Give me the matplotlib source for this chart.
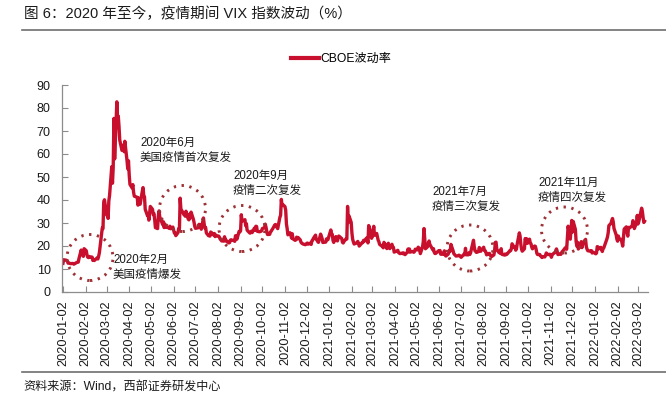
import numpy as np
import pandas as pd
import matplotlib
matplotlib.use("Agg")
import matplotlib.pyplot as plt
import matplotlib.dates as mdates
from matplotlib.patches import Ellipse
from matplotlib.lines import Line2D

plt.rcParams['font.family'] = ['Liberation Sans', 'Noto Sans CJK SC', 'DejaVu Sans']

# ---------------- data: CBOE VIX daily closes, by month ----------------
vix_2020_01 = [12.47, 14.02, 13.85, 13.79, 13.45, 12.54, 12.56, 12.32, 12.39, 12.42, 12.32, 12.10,
               12.85, 12.91, 12.98, 14.56, 18.23, 16.28, 16.39, 15.49, 18.84]
vix_2020_02 = [17.97, 16.05, 15.15, 14.96, 15.47, 15.04, 15.18, 13.74, 14.15, 13.68, 14.83, 14.38,
               15.56, 17.08, 25.03, 27.85, 27.56, 39.16, 40.11]
vix_2020_03 = [33.42, 36.82, 31.99, 39.62, 41.94, 54.46, 47.30, 53.90, 75.47, 57.83, 82.69, 75.91,
               76.45, 72.00, 66.04, 61.59, 61.67, 63.95, 61.00, 65.54, 57.08, 53.54]
vix_2020_04 = [57.06, 50.91, 46.80, 45.24, 46.70, 43.35, 41.67, 41.17, 37.76, 40.84, 40.11, 38.15,
               43.83, 45.41, 41.98, 41.38, 35.93, 33.29, 33.57, 31.23, 34.15]
vix_2020_05 = [37.19, 35.97, 33.61, 34.12, 31.44, 27.98, 27.57, 33.04, 35.28, 32.61, 31.89, 29.30,
               30.53, 27.99, 29.53, 28.16, 28.01, 27.62, 28.59, 27.51]
vix_2020_06 = [28.23, 26.84, 25.66, 25.81, 24.52, 25.81, 27.57, 27.57, 40.79, 36.09, 34.40, 33.67,
               33.47, 32.94, 35.12, 31.77, 31.37, 33.84, 32.22, 34.73, 31.78, 30.43]
vix_2020_07 = [28.62, 27.68, 27.94, 29.43, 28.08, 29.26, 27.29, 32.19, 29.52, 27.76, 28.00, 25.68,
               24.46, 24.84, 24.32, 26.08, 25.84, 24.74, 25.44, 24.10, 24.76, 24.46]
vix_2020_08 = [24.28, 23.76, 22.99, 22.65, 22.21, 22.13, 24.03, 22.28, 22.59, 22.05, 21.35, 21.51,
               22.54, 22.72, 22.54, 22.37, 22.03, 24.47, 24.47, 22.96, 26.41]
vix_2020_09 = [26.12, 26.57, 33.60, 30.75, 31.46, 28.81, 29.71, 26.87, 25.85, 25.59, 26.04, 26.46,
               25.83, 27.78, 26.86, 28.58, 28.51, 26.38, 26.19, 26.27, 26.37]
vix_2020_10 = [26.70, 27.63, 27.96, 29.48, 28.06, 26.36, 25.00, 25.07, 26.07, 26.40, 26.97, 27.41,
               29.18, 29.35, 28.65, 28.11, 27.55, 32.46, 33.35, 40.28, 37.59, 38.02]
vix_2020_11 = [37.13, 35.55, 29.57, 27.58, 24.86, 25.75, 24.80, 23.45, 25.35, 23.10, 22.45, 22.71,
               23.84, 23.11, 23.70, 22.66, 21.64, 21.25, 20.84, 20.57]
vix_2020_12 = [20.77, 21.17, 21.28, 20.79, 21.30, 20.68, 22.27, 22.52, 23.31, 24.72, 22.89, 22.50,
               21.93, 21.57, 25.16, 24.23, 23.31, 21.53, 21.70, 23.08, 22.77, 22.75]
vix_2021_01 = [26.97, 25.34, 25.07, 22.37, 21.56, 24.08, 23.33, 22.21, 23.25, 24.34, 23.24, 21.58,
               21.32, 21.91, 23.19, 23.02, 37.21, 30.21, 33.09]
vix_2021_02 = [30.24, 25.56, 22.91, 21.77, 20.87, 21.24, 21.63, 21.99, 21.25, 19.97, 21.46, 21.50,
               22.49, 22.05, 23.45, 23.11, 21.34, 28.89, 27.95]
vix_2021_03 = [23.35, 24.10, 26.67, 28.57, 24.66, 25.47, 24.03, 22.56, 21.91, 20.69, 20.03, 19.79,
               19.23, 21.58, 20.95, 18.88, 20.30, 21.20, 19.81, 18.86, 20.74, 19.61, 19.40]
vix_2021_04 = [17.33, 17.91, 18.12, 17.16, 16.95, 16.69, 16.91, 16.65, 16.99, 16.57, 16.25, 17.30,
               18.68, 17.50, 18.71, 17.33, 17.64, 17.56, 17.28, 17.61, 18.61]
vix_2021_05 = [18.31, 19.48, 19.15, 18.39, 16.69, 19.66, 21.84, 27.59, 23.13, 18.81, 19.72, 21.34,
               22.18, 20.67, 20.15, 18.40, 18.84, 17.36, 16.74, 16.76]
vix_2021_06 = [17.90, 17.48, 18.04, 16.42, 16.42, 17.07, 17.89, 16.10, 15.65, 16.39, 17.02, 18.15,
               17.75, 20.70, 17.89, 16.66, 16.32, 15.97, 15.62, 15.76, 16.02, 15.83]
vix_2021_07 = [15.48, 15.07, 16.44, 16.20, 19.00, 16.18, 16.17, 17.12, 16.33, 17.01, 18.45, 22.50,
               19.73, 17.91, 17.69, 17.20, 17.58, 19.36, 18.31, 17.70, 18.24]
vix_2021_08 = [19.46, 18.04, 17.97, 17.28, 16.15, 16.72, 16.79, 16.06, 15.59, 15.45, 16.12, 17.91,
               21.57, 21.67, 18.56, 17.15, 17.22, 16.79, 18.84, 16.39, 16.11, 16.48]
vix_2021_09 = [16.11, 16.41, 16.41, 18.00, 17.96, 18.80, 20.95, 19.37, 19.46, 18.18, 18.69, 20.81,
               25.71, 24.36, 20.87, 18.63, 17.75, 18.76, 23.25, 22.56, 23.14]
vix_2021_10 = [21.15, 22.96, 21.30, 21.00, 19.54, 18.77, 20.00, 19.85, 18.64, 16.86, 16.30, 16.30,
               15.70, 15.49, 15.01, 15.43, 15.24, 15.98, 16.98, 16.53, 16.26]
vix_2021_11 = [16.41, 16.03, 15.10, 16.03, 16.48, 17.22, 17.78, 18.73, 17.66, 16.29, 16.49, 16.37,
               17.11, 17.59, 17.91, 19.17, 19.38, 18.58, 28.62, 22.96, 27.19]
vix_2021_12 = [31.12, 26.09, 30.67, 27.18, 21.89, 19.90, 21.58, 18.69, 20.31, 21.89, 19.29, 20.57,
               21.57, 22.87, 19.70, 18.63, 17.96, 17.68, 18.00, 16.95, 17.33, 17.22]
vix_2022_01 = [16.60, 16.91, 19.73, 19.61, 18.76, 19.40, 18.41, 17.62, 18.83, 19.19, 22.79, 23.85,
               25.59, 28.85, 29.90, 31.16, 31.96, 30.49, 27.66, 24.83]
vix_2022_02 = [22.96, 22.09, 24.35, 23.22, 22.86, 21.44, 19.96, 23.91, 27.36, 28.33, 25.70, 24.29,
               28.11, 27.75, 28.81, 31.02, 30.32, 27.59, 30.15]
vix_2022_03 = [33.32, 29.57, 30.48, 31.98, 36.45, 35.13, 32.45, 30.23, 30.75]

monthly_series = [
    ('2020-01', vix_2020_01), ('2020-02', vix_2020_02), ('2020-03', vix_2020_03),
    ('2020-04', vix_2020_04), ('2020-05', vix_2020_05), ('2020-06', vix_2020_06),
    ('2020-07', vix_2020_07), ('2020-08', vix_2020_08), ('2020-09', vix_2020_09),
    ('2020-10', vix_2020_10), ('2020-11', vix_2020_11), ('2020-12', vix_2020_12),
    ('2021-01', vix_2021_01), ('2021-02', vix_2021_02), ('2021-03', vix_2021_03),
    ('2021-04', vix_2021_04), ('2021-05', vix_2021_05), ('2021-06', vix_2021_06),
    ('2021-07', vix_2021_07), ('2021-08', vix_2021_08), ('2021-09', vix_2021_09),
    ('2021-10', vix_2021_10), ('2021-11', vix_2021_11), ('2021-12', vix_2021_12),
    ('2022-01', vix_2022_01), ('2022-02', vix_2022_02), ('2022-03', vix_2022_03),
]
market_holidays = ['2020-01-01', '2020-01-20', '2020-02-17', '2020-04-10', '2020-05-25',
                   '2020-07-03', '2020-09-07', '2020-11-26', '2020-12-25',
                   '2021-01-01', '2021-01-18', '2021-02-15', '2021-04-02', '2021-05-31',
                   '2021-07-05', '2021-09-06', '2021-11-25', '2021-12-24',
                   '2022-01-17', '2022-02-21']

series_label = 'CBOE波动率'
title_text = '图 6：2020 年至今，疫情期间 VIX 指数波动（%）'
source_text = '资料来源：Wind，西部证券研发中心'
events = [
    ('2020年2月', '美国疫情爆发'),
    ('2020年6月', '美国疫情首次复发'),
    ('2020年9月', '疫情二次复发'),
    ('2021年7月', '疫情三次复发'),
    ('2021年11月', '疫情四次复发'),
]

# ---------------- build series ----------------
hol = pd.to_datetime(market_holidays)
all_dates, all_vals = [], []
for month, vals in monthly_series:
    start = pd.Timestamp(month + '-01')
    end = start + pd.offsets.MonthEnd(0)
    days = pd.bdate_range(start, end)
    days = days[~days.isin(hol)]
    n = min(len(days), len(vals))
    all_dates.extend(days[:n])
    all_vals.extend(vals[:n])
dates = pd.DatetimeIndex(all_dates)
values = np.array(all_vals)

# ---------------- figure ----------------
W, H = 666, 397
fig = plt.figure(figsize=(W / 100, H / 100), dpi=100)

def fx(px):
    return px / W

def fy(py):
    return 1 - py / H

ax = fig.add_axes([fx(61.7), fy(292), fx(648) - fx(61.7), fy(85) - fy(292)])
red = '#C8102E'
ax.plot(dates, values, color=red, lw=2.4, solid_joinstyle='round')

ax.set_ylim(0, 90)
ax.set_yticks(np.arange(0, 91, 10))
ax.set_xlim(pd.Timestamp('2019-12-31 06:00'), pd.Timestamp('2022-03-15 18:00'))
ax.xaxis.set_major_locator(mdates.MonthLocator(bymonthday=2))
ax.xaxis.set_major_formatter(mdates.DateFormatter('%Y-%m-%d'))
for lab in ax.get_xticklabels():
    lab.set_rotation(90)

for s in ['top', 'right']:
    ax.spines[s].set_visible(False)
for s in ['left', 'bottom']:
    ax.spines[s].set_color('#8c8c8c')
    ax.spines[s].set_linewidth(0.9)
ax.tick_params(axis='x', direction='in', length=4, width=0.8, color='#8c8c8c',
               labelsize=9.2, pad=6, labelcolor='#1a1a1a')
ax.tick_params(axis='y', direction='in', length=4, width=0.8, color='#8c8c8c',
               labelsize=9, pad=8, labelcolor='#1a1a1a')
ax.grid(False)

# legend
handle = Line2D([0], [0], color=red, lw=3)
fig.legend([handle], [series_label], loc='center', bbox_to_anchor=(fx(341), fy(59)),
           frameon=False, fontsize=8.7, handlelength=2.3, handletextpad=0.1,
           borderaxespad=0, borderpad=0)

# title and rules
fig.text(fx(24), fy(14), title_text, fontsize=10.5, color='#1a1a1a', va='center', ha='left')
fig.add_artist(Line2D([fx(22), 1], [fy(30), fy(30)], color='#6e6e6e', lw=1.2))
fig.add_artist(Line2D([fx(22), 1], [fy(372), fy(372)], color='#6e6e6e', lw=1.2))
fig.text(fx(23), fy(388), source_text, fontsize=8.7, color='#1a1a1a', va='center', ha='left')

# event circles and notes
circ_color = '#9E3135'
circles = [(90, 257.5), (182.5, 208.5), (242, 228.5), (470, 248), (564.5, 230)]
for cx, cy in circles:
    e = Ellipse((fx(cx), fy(cy)), 46 / W, 46 / H, transform=fig.transFigure,
                fill=False, edgecolor=circ_color, lw=2.1, linestyle=(0, (0.8, 1.9)))
    fig.add_artist(e)

note_pos = [(113, 260), (140, 143), (233, 176), (432, 192), (538, 183)]
for (l1, l2), (tx, ty) in zip(events, note_pos):
    fig.text(fx(tx), fy(ty), l1, fontsize=8.3, color='#1a1a1a', va='center', ha='left')
    fig.text(fx(tx), fy(ty + 14.8), l2, fontsize=8.3, color='#1a1a1a', va='center', ha='left')

fig.savefig('out.png', dpi=100)
